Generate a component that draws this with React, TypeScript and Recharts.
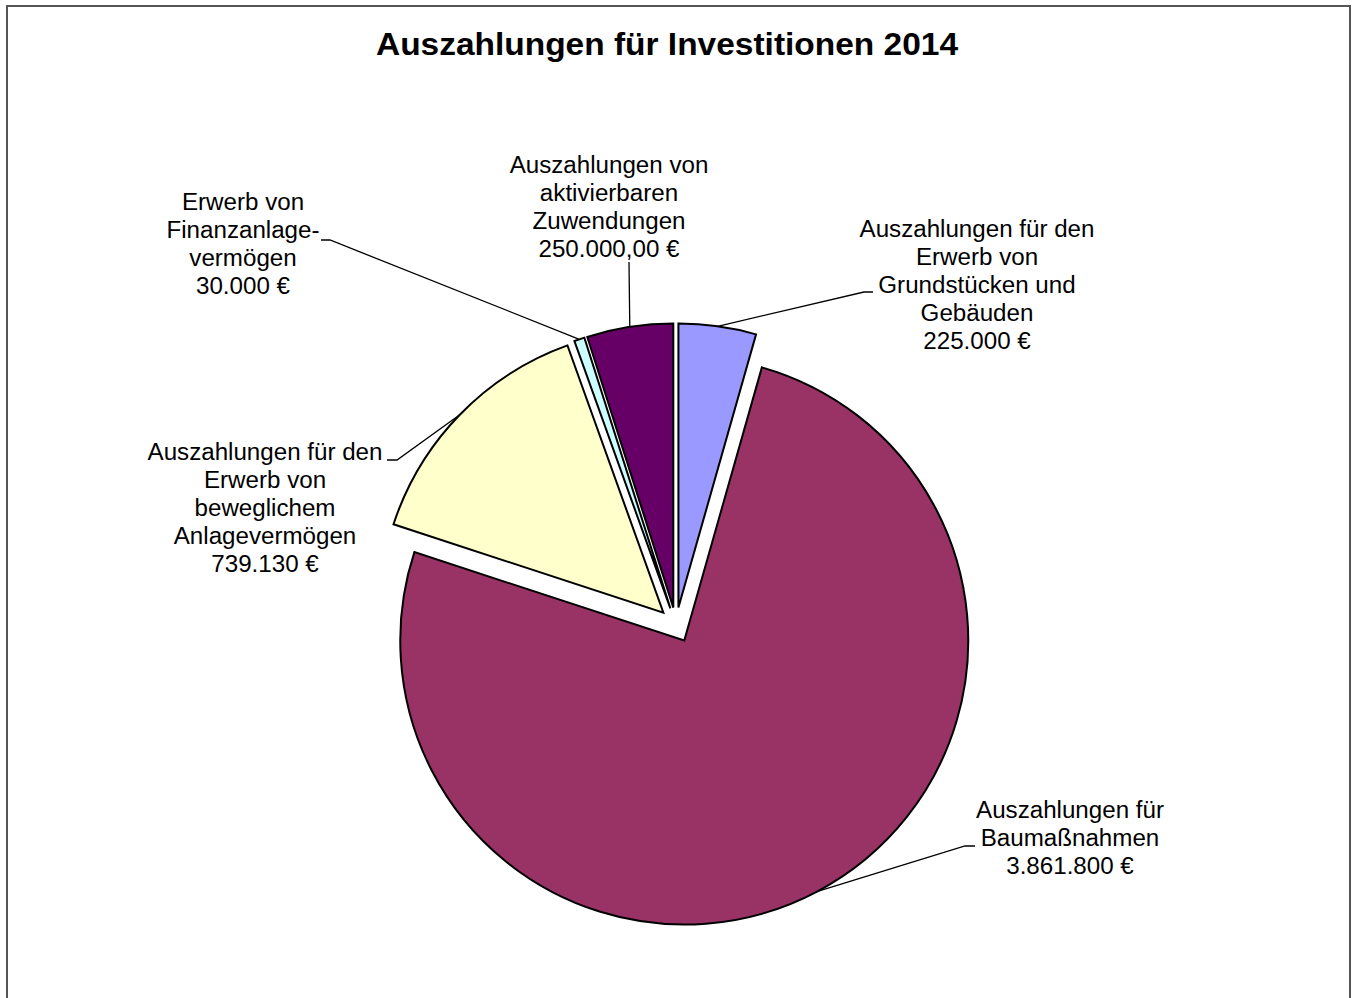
import React from 'react';
import { PieChart, Pie, Cell } from 'recharts';

// ---- data ----
const categories = [
  'Auszahlungen für den Erwerb von Grundstücken und Gebäuden',
  'Auszahlungen für Baumaßnahmen',
  'Auszahlungen für den Erwerb von beweglichem Anlagevermögen',
  'Erwerb von Finanzanlagevermögen',
  'Auszahlungen von aktivierbaren Zuwendungen',
];
const values = [225000, 3861800, 739130, 30000, 250000];
const valueLabels = ['225.000 €', '3.861.800 €', '739.130 €', '30.000 €', '250.000,00 €'];
const labelLines = [
  ['Auszahlungen für den', 'Erwerb von', 'Grundstücken und', 'Gebäuden'],
  ['Auszahlungen für', 'Baumaßnahmen'],
  ['Auszahlungen für den', 'Erwerb von', 'beweglichem', 'Anlagevermögen'],
  ['Erwerb von', 'Finanzanlage-', 'vermögen'],
  ['Auszahlungen von', 'aktivierbaren', 'Zuwendungen'],
];
const title = 'Auszahlungen für Investitionen 2014';

// ---- styles / layout ----
const colors = ['#9999FF', '#993366', '#FFFFCC', '#CCFFFF', '#660066'];
const CHART_W = 1341;
const CHART_H = 1006;
const PIE_CX = 668;
const PIE_CY = 618;
const RADIUS = 284;
const EXPLODE = 17.6;
const FONT = '"Liberation Sans", Arial, sans-serif';
const LABEL_SIZE = 23;
const LABEL_SX = 1.05;
const LINE_H = 28;
// label text anchor (center x, first baseline) and leader elbow/hook points
const labelLayout = [
  { tx: 969, ty: 230, elbow: [856, 285], hook: [865, 285] },
  { tx: 1062, ty: 811, elbow: [957, 839], hook: [967, 839] },
  { tx: 257, ty: 453, elbow: [389, 453], hook: [379, 453] },
  { tx: 235, ty: 203, elbow: [322, 233], hook: [313, 233] },
  { tx: 601, ty: 166, elbow: [621, 255], hook: [621, 255] },
];

const data = categories.map((name, i) => ({ name, value: values[i] }));
const total = values.reduce((a, b) => a + b, 0);
const RAD = Math.PI / 180;
const midAngles: number[] = [];
{
  let cum = 0;
  values.forEach((v) => {
    midAngles.push(90 - (360 * (cum + v / 2)) / total);
    cum += v;
  });
}

function makeLabel(target: number) {
  return (props: any) => {
    if (props.index !== target) return <g />;
    const { cx, cy, midAngle, outerRadius } = props;
    const ex = cx + outerRadius * Math.cos(-midAngle * RAD);
    const ey = cy + outerRadius * Math.sin(-midAngle * RAD);
    const L = labelLayout[target];
    const lines = [...labelLines[target], valueLabels[target]];
    return (
      <g>
        <polyline
          points={`${ex},${ey} ${L.elbow[0]},${L.elbow[1]} ${L.hook[0]},${L.hook[1]}`}
          fill="none"
          stroke="#000"
          strokeWidth={1.3}
        />
        <text
          transform={`translate(${L.tx},${L.ty}) scale(${LABEL_SX},1)`}
          textAnchor="middle"
          fontFamily={FONT}
          fontSize={LABEL_SIZE}
          fill="#000"
        >
          {lines.map((t, k) => (
            <tspan key={k} x={0} y={k * LINE_H}>
              {t}
            </tspan>
          ))}
        </text>
      </g>
    );
  };
}

export default function App() {
  return (
    <div style={{ position: 'fixed', left: 0, top: 0, width: 1357, height: 998, overflow: 'hidden', background: '#fff' }}>
      <div
        style={{
          position: 'absolute',
          left: 6,
          top: 5,
          width: CHART_W + 4,
          height: CHART_H + 4,
          border: '2px solid #555',
          boxSizing: 'border-box',
          background: '#fff',
        }}
      >
        <div style={{ position: 'absolute', left: 0, top: 0 }}>
          <PieChart width={CHART_W} height={CHART_H} margin={{ top: 0, right: 0, bottom: 0, left: 0 }}>
            {values.map((_, target) => {
              const dx = EXPLODE * Math.cos(midAngles[target] * RAD);
              const dy = -EXPLODE * Math.sin(midAngles[target] * RAD);
              return (
                <Pie
                  key={target}
                  data={data}
                  dataKey="value"
                  nameKey="name"
                  cx={PIE_CX + dx}
                  cy={PIE_CY + dy}
                  outerRadius={RADIUS}
                  innerRadius={0}
                  startAngle={90}
                  endAngle={-270}
                  isAnimationActive={false}
                  label={makeLabel(target)}
                  labelLine={false}
                >
                  {data.map((d, i) => (
                    <Cell
                      key={i}
                      fill={i === target ? colors[i] : 'none'}
                      stroke={i === target ? '#000' : 'none'}
                      strokeWidth={2}
                    />
                  ))}
                </Pie>
              );
            })}
          </PieChart>
        </div>
        <svg
          width={CHART_W}
          height={80}
          style={{ position: 'absolute', left: 0, top: 0, pointerEvents: 'none' }}
        >
          <text
            transform={`translate(659,48) scale(1.08,1)`}
            textAnchor="middle"
            fontFamily={FONT}
            fontWeight="bold"
            fontSize={31}
            fill="#000"
          >
            {title}
          </text>
        </svg>
      </div>
    </div>
  );
}
